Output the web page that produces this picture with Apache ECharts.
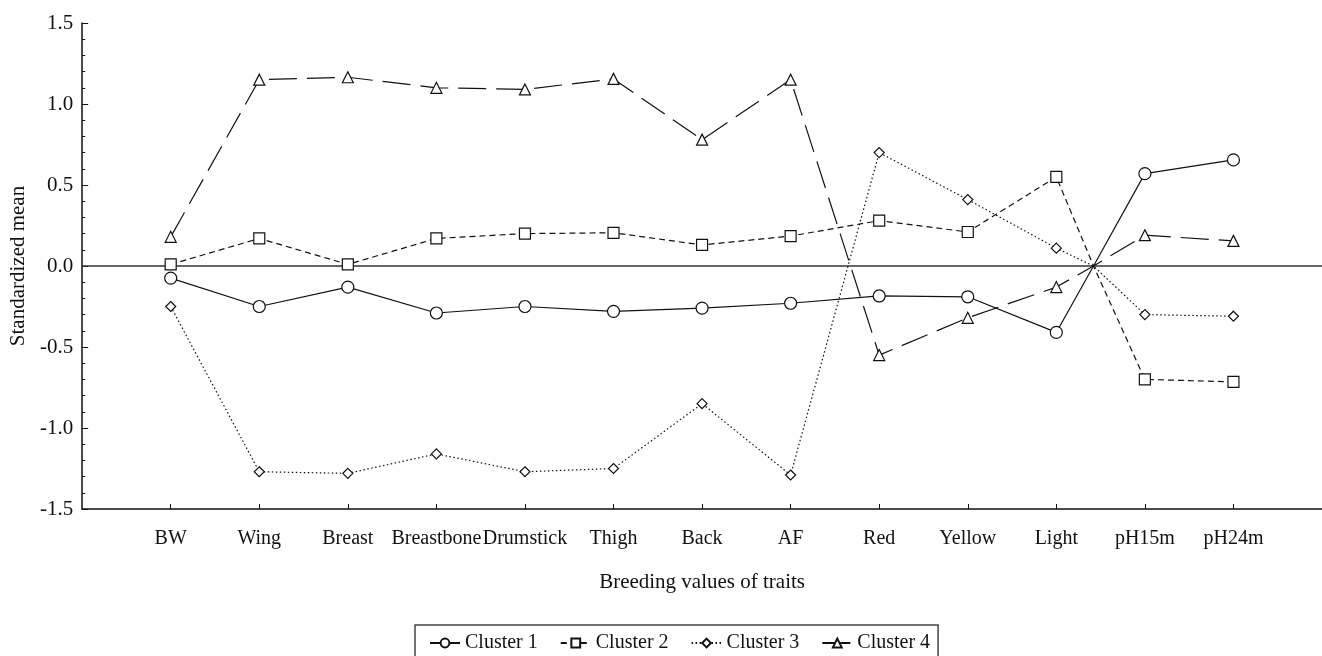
<!DOCTYPE html>
<html>
<head>
<meta charset="utf-8">
<script src="https://cdn.jsdelivr.net/npm/echarts@6/dist/echarts.min.js"></script>
<style>
  html, body { margin: 0; padding: 0; background: #fff; }
  #chart { width: 1322px; height: 656px; }
</style>
</head>
<body>
<div id="chart"></div>
<script>
// ---- data ----
const traits = ['BW', 'Wing', 'Breast', 'Breastbone', 'Drumstick', 'Thigh', 'Back', 'AF', 'Red', 'Yellow', 'Light', 'pH15m', 'pH24m'];
const cluster1 = [-0.075, -0.25, -0.13, -0.29, -0.25, -0.28, -0.26, -0.23, -0.185, -0.19, -0.41, 0.57, 0.655];
const cluster2 = [0.01, 0.17, 0.01, 0.17, 0.20, 0.205, 0.13, 0.185, 0.28, 0.21, 0.55, -0.70, -0.715];
const cluster3 = [-0.25, -1.27, -1.28, -1.16, -1.27, -1.25, -0.85, -1.29, 0.70, 0.41, 0.11, -0.30, -0.31];
const cluster4 = [0.18, 1.15, 1.165, 1.10, 1.09, 1.155, 0.78, 1.15, -0.55, -0.32, -0.13, 0.19, 0.155];
// all series pass through a common unlabeled point between Light and pH15m
const crossX = 11.42;
const crossY = 0;
const seriesNames = ['Cluster 1', 'Cluster 2', 'Cluster 3', 'Cluster 4'];
const yTicks = [-1.5, -1.0, -0.5, 0.0, 0.5, 1.0, 1.5];

function buildData(vals) {
  const d = vals.map((v, i) => [i + 1, v]);
  d.splice(11, 0, { value: [crossX, crossY], symbol: 'none' });
  return d;
}

const FONT = 'Liberation Serif';
const INK = '#111';

const styles = [
  { symbol: 'circle', size: 12, dash: 'solid' },
  { symbol: 'rect', size: 11, dash: [6, 4] },
  { symbol: 'diamond', size: 10, dash: [1.5, 2.5] },
  { symbol: 'triangle', size: 11, dash: [28, 10] }
];
const allVals = [cluster1, cluster2, cluster3, cluster4];

const series = allVals.map((vals, k) => {
  const s = {
    name: seriesNames[k],
    type: 'line',
    data: buildData(vals),
    symbol: styles[k].symbol,
    symbolSize: styles[k].size,
    showAllSymbol: true,
    lineStyle: { color: INK, width: 1.2, type: styles[k].dash },
    itemStyle: { color: '#fff', borderColor: INK, borderWidth: 1.2 },
    emphasis: { disabled: true },
    z: 3
  };
  if (k === 0) {
    s.markLine = {
      silent: true,
      symbol: 'none',
      label: { show: false },
      lineStyle: { color: '#333', width: 1.5, type: 'solid' },
      data: [{ yAxis: 0 }],
      z: 1
    };
  }
  return s;
});

const chart = echarts.init(document.getElementById('chart'), null, { renderer: 'canvas' });
chart.setOption({
  animation: false,
  backgroundColor: '#fff',
  grid: { left: 79, top: 23, width: 1253, height: 486, containLabel: false },
  xAxis: {
    type: 'value',
    min: 0,
    max: 14,
    interval: 1,
    name: 'Breeding values of traits',
    nameLocation: 'middle',
    nameGap: 63,
    nameTextStyle: { fontFamily: FONT, fontSize: 21, color: INK },
    axisLine: { show: true, onZero: false, lineStyle: { color: INK, width: 1.5 } },
    axisTick: { show: true, inside: true, length: 5, lineStyle: { color: INK } },
    splitLine: { show: false },
    axisLabel: {
      fontFamily: FONT, fontSize: 20, color: INK, margin: 20,
      showMinLabel: false, showMaxLabel: false,
      formatter: function (v) {
        const i = Math.round(v);
        if (Math.abs(v - i) < 1e-6 && i >= 1 && i <= traits.length) return traits[i - 1];
        return '';
      }
    }
  },
  yAxis: {
    type: 'value',
    min: yTicks[0],
    max: yTicks[yTicks.length - 1],
    interval: 0.5,
    name: 'Standardized mean',
    nameLocation: 'middle',
    nameGap: 50,
    nameTextStyle: { fontFamily: FONT, fontSize: 21, color: INK },
    axisLine: { show: true, onZero: false, lineStyle: { color: INK, width: 1.5 } },
    axisTick: { show: true, inside: true, length: 6, lineStyle: { color: INK } },
    minorTick: { show: true, splitNumber: 5, length: 3, lineStyle: { color: INK } },
    splitLine: { show: false },
    axisLabel: {
      fontFamily: FONT, fontSize: 21, color: INK, margin: 9,
      formatter: function (v) { return v.toFixed(1); }
    }
  },
  legend: {
    left: 415,
    top: 625,
    orient: 'horizontal',
    padding: [8, 8, 30, 14],
    itemGap: 22,
    itemWidth: 30,
    itemHeight: 11,
    borderColor: '#444',
    borderWidth: 1.5,
    data: seriesNames,
    textStyle: { fontFamily: FONT, fontSize: 20, color: INK },
    selectedMode: false
  },
  series: series
});
</script>
</body>
</html>
